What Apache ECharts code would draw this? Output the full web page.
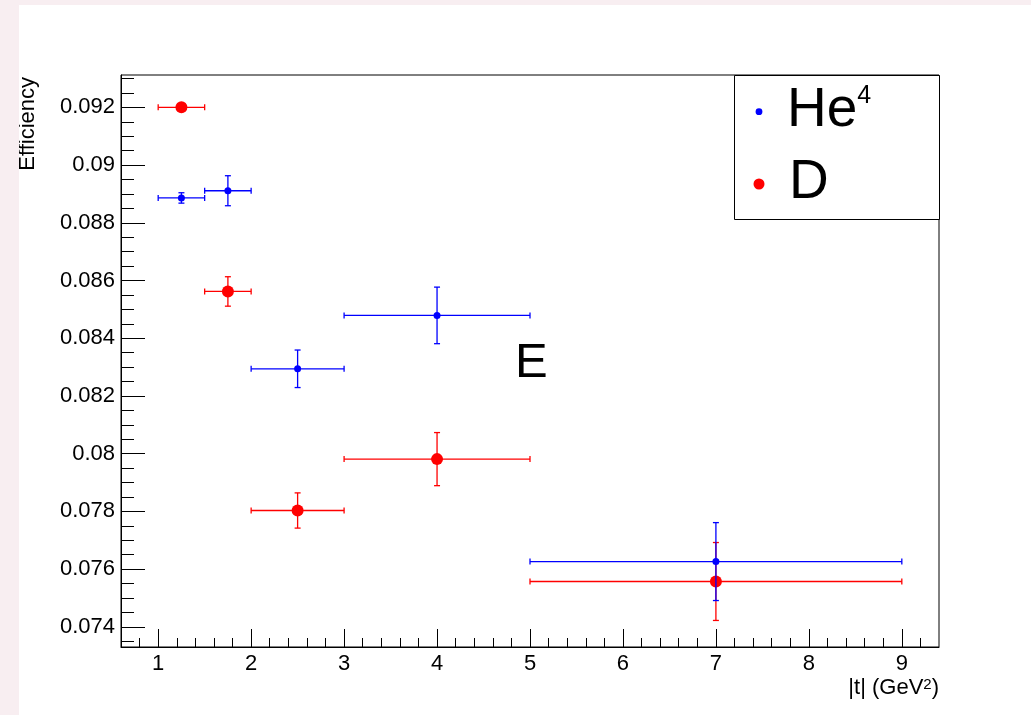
<!DOCTYPE html>
<html>
<head>
<meta charset="utf-8">
<script src="https://cdn.jsdelivr.net/npm/echarts@6/dist/echarts.min.js"></script>
<style>
  html, body { margin: 0; padding: 0; background: #f8eef1; }
  #main { position: absolute; left: 19px; top: 5px; width: 1012px; height: 710px; background: #fff; }
</style>
</head>
<body>
<div id="main"></div>
<script>
// bins in |t|
var binCenter = [1.25, 1.75, 2.5, 4, 7];
var binLow = [1, 1.5, 2, 3, 5];
var binHigh = [1.5, 2, 3, 5, 9];

// efficiencies and errors
var he4Eff = [0.08886, 0.08911, 0.08294, 0.08479, 0.07626];
var he4Err = [0.00018, 0.00052, 0.00065, 0.00098, 0.00135];
var dEff = [0.0920, 0.08562, 0.07803, 0.07981, 0.07557];
var dErr = [0.00008, 0.00051, 0.00061, 0.00092, 0.00135];

// axis ticks
var xTicks = [1, 2, 3, 4, 5, 6, 7, 8, 9];
var yTicks = [0.074, 0.076, 0.078, 0.08, 0.082, 0.084, 0.086, 0.088, 0.09, 0.092];

var xMinor = [];
for (var i = 1; i <= 43; i++) {
  var v = +(0.6 + 0.2 * i).toFixed(1);
  if (v % 1 !== 0) xMinor.push(v);
}
var yMinor = [];
for (var j = 0; j <= 39; j++) {
  var w = +(0.0735 + 0.0005 * j).toFixed(4);
  if (Math.round(w * 10000) % 20 !== 0) yMinor.push(w);
}

var FONT = 'Liberation Sans';
var BLUE = '#0000ff';
var RED = '#ff0000';

function rows(eff, err) {
  var out = [];
  for (var k = 0; k < binCenter.length; k++) {
    out.push([binCenter[k], eff[k], binLow[k], binHigh[k], err[k]]);
  }
  return out;
}

function errorBars(color) {
  return function (params, api) {
    var x = api.value(0), y = api.value(1);
    var l = api.coord([api.value(2), y]);
    var r = api.coord([api.value(3), y]);
    var t = api.coord([x, y + api.value(4)]);
    var b = api.coord([x, y - api.value(4)]);
    var cap = 3;
    var st = { stroke: color, lineWidth: 1.3 };
    return {
      type: 'group',
      children: [
        { type: 'line', shape: { x1: l[0], y1: l[1], x2: r[0], y2: r[1] }, style: st },
        { type: 'line', shape: { x1: l[0], y1: l[1] - cap, x2: l[0], y2: l[1] + cap }, style: st },
        { type: 'line', shape: { x1: r[0], y1: r[1] - cap, x2: r[0], y2: r[1] + cap }, style: st },
        { type: 'line', shape: { x1: t[0], y1: t[1], x2: b[0], y2: b[1] }, style: st },
        { type: 'line', shape: { x1: t[0] - cap, y1: t[1], x2: t[0] + cap, y2: t[1] }, style: st },
        { type: 'line', shape: { x1: b[0] - cap, y1: b[1], x2: b[0] + cap, y2: b[1] }, style: st }
      ]
    };
  };
}

var myChart = echarts.init(document.getElementById('main'));

var axisLine = { show: true, lineStyle: { color: '#000', width: 1 } };

var option = {
  backgroundColor: '#fff',
  animation: false,
  grid: {
    left: 102, top: 70, width: 818, height: 572,
    show: true, borderColor: '#000', borderWidth: 1,
    outerBoundsMode: 'none'
  },
  xAxis: [{
    type: 'value', min: 0.6, max: 9.4, position: 'bottom',
    splitLine: { show: false },
    axisLine: axisLine,
    axisTick: { inside: true, length: 18, customValues: xTicks, lineStyle: { color: '#000' } },
    axisLabel: { customValues: xTicks, margin: 6, color: '#000', fontFamily: FONT, fontSize: 22 },
    name: '|t| (GeV{sup|2})',
    nameLocation: 'end', nameGap: 0,
    nameTextStyle: {
      color: '#000', fontFamily: FONT, fontSize: 22, align: 'right', verticalAlign: 'top',
      padding: [30, 0, 0, 0],
      rich: { sup: { fontSize: 15, verticalAlign: 'top', fontFamily: FONT, color: '#000' } }
    }
  }, {
    type: 'value', min: 0.6, max: 9.4, position: 'bottom',
    splitLine: { show: false },
    axisLine: { show: false },
    axisTick: { inside: true, length: 9, customValues: xMinor, lineStyle: { color: '#000' } },
    axisLabel: { show: false }
  }],
  yAxis: [{
    type: 'value', min: 0.0733, max: 0.09312, position: 'left',
    splitLine: { show: false },
    axisLine: axisLine,
    axisTick: { inside: true, length: 24, customValues: yTicks, lineStyle: { color: '#000' } },
    axisLabel: { customValues: yTicks, margin: 6, color: '#000', fontFamily: FONT, fontSize: 22 },
    name: 'Efficiency',
    nameLocation: 'end', nameGap: -2, nameRotate: 90,
    nameTextStyle: {
      color: '#000', fontFamily: FONT, fontSize: 22, align: 'right', verticalAlign: 'bottom',
      padding: [0, 0, 82, 0]
    }
  }, {
    type: 'value', min: 0.0733, max: 0.09312, position: 'left',
    splitLine: { show: false },
    axisLine: { show: false },
    axisTick: { inside: true, length: 13, customValues: yMinor, lineStyle: { color: '#000' } },
    axisLabel: { show: false }
  }],
  graphic: [
    {
      type: 'rect', left: 715, top: 70,
      shape: { width: 205, height: 144 },
      style: { fill: '#fff', stroke: '#000', lineWidth: 1 }, z: 10
    },
    { type: 'circle', shape: { cx: 740, cy: 106.7, r: 3.4 }, style: { fill: BLUE }, z: 11 },
    { type: 'circle', shape: { cx: 740, cy: 179, r: 5.5 }, style: { fill: RED }, z: 11 },
    {
      type: 'text', x: 768, y: 106, z: 11,
      style: {
        text: 'He{sup|4}', fill: '#000', fontFamily: FONT, fontSize: 55, verticalAlign: 'middle',
        rich: { sup: { fontSize: 25, verticalAlign: 'top', fontFamily: FONT, fill: '#000' } }
      }
    },
    {
      type: 'text', x: 770, y: 178, z: 11,
      style: { text: 'D', fill: '#000', fontFamily: FONT, fontSize: 55, verticalAlign: 'middle' }
    },
    {
      type: 'text', x: 496, y: 358, z: 11,
      style: { text: 'E', fill: '#000', fontFamily: FONT, fontSize: 49, verticalAlign: 'middle' }
    }
  ],
  series: [
    { type: 'custom', name: 'D err', renderItem: errorBars(RED), data: rows(dEff, dErr), z: 2 },
    { type: 'scatter', name: 'D', symbol: 'circle', symbolSize: 12, itemStyle: { color: RED, opacity: 1 },
      data: rows(dEff, dErr).map(function (d) { return [d[0], d[1]]; }), z: 3 },
    { type: 'custom', name: 'He4 err', renderItem: errorBars(BLUE), data: rows(he4Eff, he4Err), z: 4 },
    { type: 'scatter', name: 'He4', symbol: 'circle', symbolSize: 7, itemStyle: { color: BLUE, opacity: 1 },
      data: rows(he4Eff, he4Err).map(function (d) { return [d[0], d[1]]; }), z: 5 }
  ]
};

myChart.setOption(option);
</script>
</body>
</html>
